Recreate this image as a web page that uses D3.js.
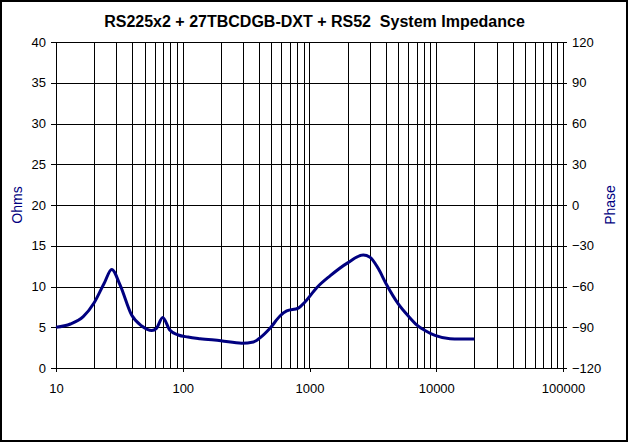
<!DOCTYPE html>
<html>
<head>
<meta charset="utf-8">
<script src="https://cdn.jsdelivr.net/npm/d3@7"></script>
<style>
  html, body { margin: 0; padding: 0; background: #fff; }
  svg { display: block; }
  text { font-family: "Liberation Sans", Arial, sans-serif; }
</style>
</head>
<body>
<svg id="chart" width="628" height="442"></svg>
<script>
// ---- data ----
const freqHz = [10, 13, 16.4, 20, 24, 27.5, 32, 39.5, 47.5, 57, 62, 69.5, 79, 92, 110, 137, 200, 292, 361, 407, 488, 585, 661, 816, 921, 1140, 1452, 2000, 2655, 3000, 3490, 4000, 5000, 6000, 7000, 8150, 9770, 12850, 20000];
const impedanceOhms = [5.0, 5.4, 6.3, 8.0, 10.4, 12.1, 10.2, 6.5, 5.15, 4.6, 4.87, 6.2, 4.66, 4.05, 3.8, 3.6, 3.35, 3.05, 3.2, 3.7, 4.87, 6.38, 7.0, 7.35, 8.1, 9.85, 11.3, 12.9, 13.85, 13.6, 12.2, 10.4, 7.9, 6.4, 5.3, 4.6, 4.0, 3.6, 3.55];
const xTickLabels = [10, 100, 1000, 10000, 100000];
const ohmTicks = [0, 5, 10, 15, 20, 25, 30, 35, 40];
const phaseTicks = [-120, -90, -60, -30, 0, 30, 60, 90, 120];
const titleText = "RS225x2 + 27TBCDGB-DXT + RS52  System Impedance";

// ---- layout ----
const W = 628, H = 442;
const pLeft = 56, pRight = 563, pTop = 42, pBottom = 368;
const svg = d3.select("#chart");

svg.append("rect").attr("x", 1).attr("y", 1).attr("width", W - 2).attr("height", H - 2)
  .attr("fill", "#fff").attr("stroke", "#000").attr("stroke-width", 2);

const x = d3.scaleLog().domain([10, 100000]).range([pLeft, pRight]);
const y = d3.scaleLinear().domain([0, 40]).range([pBottom, pTop]);
const yP = d3.scaleLinear().domain([-120, 120]).range([pBottom, pTop]);

// vertical grid (all decades and multiples)
const gridFreqs = [];
for (let d = 10; d < 100000; d *= 10) for (let m = 1; m <= 9; m++) gridFreqs.push(d * m);
gridFreqs.push(100000);

const grid = svg.append("g").attr("shape-rendering", "crispEdges");
grid.selectAll("line.v").data(gridFreqs).join("line")
  .attr("x1", d => Math.round(x(d)) + 0.5).attr("x2", d => Math.round(x(d)) + 0.5)
  .attr("y1", pTop).attr("y2", pBottom)
  .attr("stroke", "#000").attr("stroke-width", 1);
grid.selectAll("line.h").data(ohmTicks).join("line")
  .attr("x1", pLeft).attr("x2", pRight)
  .attr("y1", d => Math.round(y(d)) + 0.5).attr("y2", d => Math.round(y(d)) + 0.5)
  .attr("stroke", "#000").attr("stroke-width", 1);

// axes
function styleAxis(g) {
  g.select(".domain").remove();
  g.selectAll(".tick line").attr("stroke", "#000").attr("shape-rendering", "crispEdges");
  g.selectAll(".tick text").attr("fill", "#000").style("font-size", "13px")
   .style("font-family", '"Liberation Sans", Arial, sans-serif');
}
svg.append("g").attr("transform", `translate(${pLeft},0)`)
  .call(d3.axisLeft(y).tickValues(ohmTicks).tickSize(5).tickPadding(5))
  .call(styleAxis);
svg.append("g").attr("transform", `translate(${pRight},0)`)
  .call(d3.axisRight(yP).tickValues(phaseTicks).tickSize(4).tickPadding(5))
  .call(styleAxis);
svg.append("g").attr("transform", `translate(0,${pBottom})`)
  .call(d3.axisBottom(x).tickValues(xTickLabels).tickFormat(d3.format("d")).tickSize(4).tickPadding(12))
  .call(styleAxis);

// curve
const line = d3.line().x(d => x(d[0])).y(d => y(d[1])).curve(d3.curveMonotoneX);
svg.append("path")
  .datum(freqHz.map((f, i) => [f, impedanceOhms[i]]))
  .attr("d", line)
  .attr("fill", "none").attr("stroke", "#000080").attr("stroke-width", 3)
  .attr("stroke-linejoin", "round");

// titles
svg.append("text").attr("x", 314.5).attr("y", 27).attr("text-anchor", "middle")
  .style("font-size", "16px").style("font-weight", "bold").style("white-space", "pre")
  .attr("fill", "#000").text(titleText);
svg.append("text").attr("transform", "translate(22,205) rotate(-90)").attr("text-anchor", "middle")
  .style("font-size", "14px").attr("fill", "#000080").text("Ohms");
svg.append("text").attr("transform", "translate(615,205) rotate(-90)").attr("text-anchor", "middle")
  .style("font-size", "14px").attr("fill", "#000080").text("Phase");
</script>
</body>
</html>
